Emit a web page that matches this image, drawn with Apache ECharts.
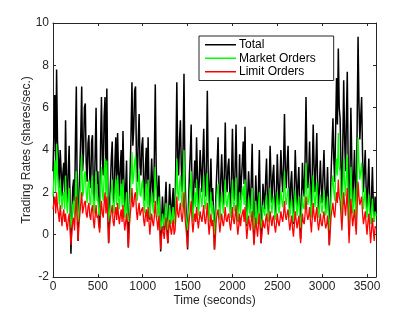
<!DOCTYPE html>
<html>
<head>
<meta charset="utf-8">
<script src="https://cdn.jsdelivr.net/npm/echarts@6/dist/echarts.min.js"></script>
<style>html,body{margin:0;padding:0;background:#fff}#c{width:415px;height:311px}</style>
</head>
<body>
<div id="c"></div>
<script>
// sample spacing: one value every 10 seconds, 0..3600
var STEP_SECONDS = 10;
var xTickValues = [0, 500, 1000, 1500, 2000, 2500, 3000, 3500];
var yTickValues = [-2, 0, 2, 4, 6, 8, 10];
var xTitle = 'Time (seconds)';
var yTitle = 'Trading Rates (shares/sec.)';

var totalRates = [
 3.0, 4.8, 6.6, 3.2, 7.8, 4.4, 3.6, 2.2, 4.0, 3.1, 1.8, 2.9, 3.4, 1.9, 5.4, 2.6, 1.5, 3.0, 4.2, 1.6,
 -0.9, 0.8, 2.2, 2.6, 1.0, 4.4, 7.0, 1.8, -0.3, 2.0, 3.2, 4.8, 7.0, 3.0, 3.8, 6.0, 6.2, 3.4, 2.5, 4.3,
 4.7, 2.6, 2.2, 4.4, 4.7, 2.0, 1.6, 3.8, 6.0, 2.4, 3.0, 1.2, 0.3, 4.2, 6.5, 3.6, 2.8, 5.6, 6.5, 3.0,
 6.9, 2.5, -0.4, 1.2, 2.4, 3.6, 4.4, 1.9, 1.5, 3.4, 4.6, 2.2, 4.8, 3.0, 1.8, 3.2, 4.0, 2.0, 4.9, 2.6,
 1.2, 2.2, 3.5, 0.8, -0.6, 1.4, 3.0, 4.8, 7.2, 4.2, 5.0, 6.8, 7.0, 3.6, 2.5, 4.5, 5.7, 3.2, 2.8, 4.2,
 4.6, 2.4, 1.6, 3.2, 4.1, 2.0, 4.6, 2.2, 0.7, 2.4, 3.6, 2.2, 1.5, 3.8, 7.1, 3.2, 2.2, 1.0, 2.8, 1.4,
 -0.8, 0.6, 1.8, 1.0, 0.2, 1.6, 2.5, 0.8, -0.4, 1.2, 2.4, 1.4, 0.5, 1.6, 2.2, 0.6, 1.0, 3.8, 7.2, 3.6,
 2.8, 4.5, 5.4, 3.2, 2.0, 4.2, 7.6, 3.0, 1.5, 0.6, -0.7, 1.4, 2.8, 3.8, 5.2, 2.0, 0.8, 2.4, 3.5, 2.2,
 4.6, 2.8, 1.2, 2.6, 4.0, 3.0, 2.0, 3.6, 5.0, 2.6, 1.8, 3.4, 6.8, 2.8, 1.0, 2.4, 3.6, 1.6, 2.2, 1.0,
 -0.7, 1.0, 2.4, 3.4, 4.6, 2.2, 0.8, 2.6, 3.8, 2.4, 1.4, 3.0, 5.3, 2.6, 2.0, 3.2, 3.6, 2.0, 1.0, 2.8,
 5.0, 2.6, 1.6, 3.2, 5.2, 2.4, 0.6, 2.0, 3.8, 1.6, 2.6, 3.4, 4.4, 2.4, 5.1, 2.2, 0.4, 1.8, 3.0, 2.0,
 1.0, 2.6, 4.3, 1.4, -0.4, 1.2, 2.8, 1.6, 0.5, 2.2, 4.0, 1.4, -0.4, 1.0, 2.4, 1.8, 1.2, 2.6, 3.6, 1.6,
 0.6, 2.4, 4.2, 2.6, 1.5, 2.8, 3.3, 1.8, 0.8, 2.0, 3.8, 2.4, 1.4, 2.6, 4.0, 2.8, 2.0, 3.4, 5.7, 3.0,
 2.2, 3.4, 4.2, 2.2, 1.0, 2.4, 3.0, 1.6, 0.5, 2.2, 4.0, 2.6, 1.2, 2.4, 3.2, 1.4, -0.2, 1.6, 3.4, 2.2,
 1.8, 3.6, 6.5, 3.4, 2.2, 3.0, 4.4, 2.4, 1.0, 3.0, 5.2, 3.2, 2.0, 3.4, 4.8, 2.2, 1.0, 2.4, 3.5, 2.2,
 1.5, 2.8, 4.0, 2.4, 1.2, 2.0, 3.2, 1.4, -0.5, 1.2, 3.0, 4.2, 5.5, 3.6, 2.5, 5.0, 7.4, 5.2, 8.8, 6.0,
 5.5, 3.2, 1.0, 4.2, 7.3, 4.6, 3.0, 5.4, 7.7, 3.2, 0.0, 2.8, 6.0, 3.6, 1.5, 2.6, 4.0, 2.2, 0.6, 5.2,
 9.35, 6.2, 4.5, 5.6, 6.5, 3.8, 2.0, 3.0, 4.0, 2.2, 1.0, 2.4, 3.6, 1.6, 0.5, 1.8, 3.2, 1.4, 0.6, 1.8,
 1.0
];

var marketRates = [
 1.8, 2.6, 3.5, 2.0, 4.3, 2.8, 2.2, 1.4, 2.6, 1.9, 1.2, 1.8, 2.0, 1.2, 2.8, 1.6, 1.0, 1.8, 2.2, 1.0,
 0.3, 0.8, 1.4, 1.6, 0.8, 2.2, 3.0, 1.2, 0.6, 1.3, 1.8, 2.6, 3.8, 1.8, 2.0, 2.9, 3.0, 2.0, 1.5, 2.4,
 2.6, 1.6, 1.4, 2.4, 2.8, 1.4, 1.0, 2.0, 3.0, 1.6, 1.8, 1.0, 0.9, 2.2, 3.2, 2.0, 1.6, 2.8, 3.6, 1.8,
 3.5, 1.6, 0.6, 1.0, 1.6, 2.1, 2.6, 1.3, 1.0, 2.0, 2.6, 1.4, 2.8, 1.8, 1.2, 1.9, 2.4, 1.3, 2.6, 1.5,
 0.8, 1.4, 2.0, 0.8, 0.6, 1.0, 1.8, 2.6, 3.9, 2.4, 2.8, 3.5, 3.7, 2.2, 1.6, 2.5, 3.0, 1.9, 1.8, 2.4,
 2.6, 1.5, 1.0, 1.9, 2.4, 1.3, 2.6, 1.4, 0.8, 1.5, 2.0, 1.4, 1.0, 2.0, 3.2, 1.8, 1.4, 0.8, 1.8, 1.0,
 0.2, 0.5, 1.0, 0.7, 0.4, 1.0, 1.5, 0.6, 0.2, 0.8, 1.4, 0.9, 0.5, 1.0, 1.3, 0.5, 0.8, 2.0, 3.6, 2.0,
 1.6, 2.4, 2.8, 1.8, 1.3, 2.4, 4.0, 1.8, 1.0, 0.5, 0.2, 0.9, 1.6, 2.2, 3.0, 1.3, 0.6, 1.4, 2.0, 1.3,
 2.6, 1.6, 0.9, 1.6, 2.2, 1.7, 1.3, 2.0, 2.8, 1.5, 1.2, 1.9, 2.9, 1.6, 0.6, 1.4, 2.0, 1.0, 1.4, 0.7,
 0.0, 0.7, 1.5, 2.0, 2.4, 1.4, 0.7, 1.5, 2.0, 1.4, 1.0, 1.7, 2.6, 1.5, 1.3, 1.8, 2.0, 1.2, 0.8, 1.6,
 2.6, 1.5, 1.1, 1.8, 2.7, 1.4, 0.6, 1.2, 2.0, 1.0, 1.6, 1.9, 2.3, 1.4, 2.6, 1.3, 0.5, 1.1, 1.8, 1.2,
 0.8, 1.5, 2.2, 0.9, 0.2, 0.8, 1.6, 1.0, 0.5, 1.3, 2.0, 0.8, 0.3, 0.7, 1.4, 1.1, 0.9, 1.5, 1.9, 1.0,
 0.6, 1.4, 2.2, 1.5, 1.0, 1.6, 1.8, 1.1, 0.7, 1.2, 2.0, 1.4, 1.0, 1.5, 2.1, 1.6, 1.3, 1.9, 3.0, 1.7,
 1.4, 1.9, 2.2, 1.3, 0.8, 1.4, 1.7, 1.0, 0.6, 1.3, 2.1, 1.5, 0.9, 1.4, 1.8, 0.9, 0.3, 1.0, 1.9, 1.3,
 1.2, 2.0, 3.4, 1.9, 1.4, 1.7, 2.4, 1.4, 0.8, 1.7, 2.8, 1.8, 1.3, 1.9, 2.5, 1.3, 0.8, 1.4, 1.9, 1.3,
 1.0, 1.6, 2.1, 1.4, 0.9, 1.2, 1.8, 0.9, 0.2, 0.8, 1.8, 2.3, 2.8, 2.0, 1.6, 2.7, 3.6, 2.8, 4.8, 3.2,
 3.0, 1.8, 0.8, 2.2, 3.6, 2.5, 1.8, 2.8, 3.8, 1.8, 0.3, 1.5, 3.2, 2.0, 1.0, 1.5, 2.2, 1.3, 0.6, 2.6,
 4.6, 3.3, 2.6, 3.0, 3.4, 2.1, 1.2, 1.7, 2.2, 1.3, 0.8, 1.4, 1.9, 1.0, 0.5, 1.1, 1.7, 0.9, 0.6, 1.1,
 0.9
];

var limitRates = [
 1.2, 1.5, 1.8, 1.0, 2.0, 1.3, 1.0, 0.6, 1.4, 0.9, 0.4, 0.9, 1.2, 0.6, 1.0, 0.5, 0.2, 0.7, 1.0, 0.3,
 -0.5, 0.1, 0.6, 0.8, 0.2, 1.2, 1.8, 0.5, -0.3, 0.5, 1.0, 1.5, 2.0, 1.0, 1.0, 1.5, 1.6, 1.0, 0.8, 1.3,
 1.5, 0.9, 0.7, 1.2, 1.4, 0.7, 0.3, 0.9, 1.4, 0.8, 0.9, 0.4, 0.1, 1.0, 1.6, 1.0, 0.8, 1.5, 2.0, 1.0,
 1.8, 0.8, -0.4, 0.3, 0.8, 1.1, 1.4, 0.6, 0.4, 1.0, 1.3, 0.7, 1.5, 0.9, 0.5, 0.9, 1.2, 0.6, 1.4, 0.7,
 0.2, 0.6, 1.0, 0.2, -0.6, 0.3, 0.9, 1.4, 2.2, 1.3, 1.4, 1.9, 2.0, 1.1, 0.7, 1.2, 1.5, 0.9, 0.9, 1.2,
 1.3, 0.7, 0.4, 0.9, 1.2, 0.6, 1.3, 0.6, 0.0, 0.6, 1.0, 0.6, 0.4, 0.9, 1.6, 0.9, 0.6, 0.2, 0.9, 0.3,
 -0.7, -0.1, 0.4, 0.1, -0.2, 0.4, 0.8, 0.0, -0.4, 0.2, 0.7, 0.3, 0.0, 0.4, 0.7, 0.0, 0.2, 0.9, 1.8, 1.0,
 0.8, 1.2, 1.5, 0.9, 0.6, 1.1, 2.0, 0.9, 0.4, -0.1, -0.6, 0.2, 0.8, 1.1, 1.6, 0.6, 0.1, 0.6, 1.0, 0.6,
 1.3, 0.7, 0.3, 0.7, 1.1, 0.8, 0.6, 1.0, 1.4, 0.7, 0.5, 0.9, 1.5, 0.6, 0.0, 0.5, 1.0, 0.4, 0.7, 0.1,
 -0.7, -0.1, 0.7, 1.0, 1.2, 0.6, 0.1, 0.6, 1.0, 0.6, 0.4, 0.8, 1.3, 0.7, 0.6, 0.9, 1.0, 0.5, 0.2, 0.7,
 1.3, 0.7, 0.5, 0.9, 1.4, 0.5, 0.0, 0.4, 1.0, 0.4, 0.8, 1.0, 1.2, 0.6, 1.3, 0.5, -0.2, 0.3, 0.9, 0.5,
 0.2, 0.7, 1.1, 0.2, -0.5, 0.1, 0.8, 0.3, -0.1, 0.5, 1.0, 0.2, -0.4, 0.1, 0.7, 0.4, 0.3, 0.7, 1.0, 0.4,
 0.0, 0.6, 1.1, 0.7, 0.4, 0.8, 0.9, 0.4, 0.1, 0.5, 1.0, 0.6, 0.4, 0.7, 1.1, 0.8, 0.6, 1.0, 1.6, 0.9,
 0.7, 1.0, 1.2, 0.6, 0.2, 0.6, 0.9, 0.3, -0.1, 0.5, 1.1, 0.7, 0.3, 0.6, 0.9, 0.2, -0.4, 0.3, 1.0, 0.6,
 0.5, 1.0, 1.8, 1.0, 0.7, 0.9, 1.3, 0.6, 0.1, 0.8, 1.5, 0.9, 0.6, 1.0, 1.3, 0.6, 0.2, 0.6, 1.0, 0.5,
 0.4, 0.8, 1.1, 0.6, 0.3, 0.5, 0.9, 0.2, -0.5, 0.2, 0.9, 1.2, 1.5, 1.0, 0.8, 1.4, 2.0, 1.5, 2.6, 1.8,
 1.6, 0.9, 0.2, 1.1, 2.0, 1.4, 0.9, 1.5, 2.2, 0.8, -0.4, 0.6, 1.7, 1.0, 0.4, 0.8, 1.2, 0.5, 0.0, 1.3,
 2.5, 1.8, 1.4, 1.6, 1.8, 1.0, 0.5, 0.8, 1.1, 0.5, 0.0, 0.6, 1.0, 0.3, -0.4, 0.2, 0.8, 0.2, -0.3, 0.4,
 0.3
];

var seriesNames = ['Total', 'Market Orders', 'Limit Orders'];
var seriesColors = ['#000000', '#00ff00', '#ff0000'];

function pairs(arr) {
  return arr.map(function (v, i) { return [i * STEP_SECONDS, v]; });
}

var FONT = 'Liberation Sans, Arial, Helvetica, sans-serif';
var AX = '#262626';

var chart = echarts.init(document.getElementById('c'), null, {renderer: 'canvas'});
var xBase = {
  type: 'value', min: 0, max: 3600, interval: 500,
  axisLine: {show: true, onZero: false, lineStyle: {color: AX, width: 1}},
  axisTick: {show: true, inside: true, length: 3, lineStyle: {color: AX}},
  splitLine: {show: false}
};
var yBase = {
  type: 'value', min: -2, max: 10, interval: 2,
  axisLine: {show: true, onZero: false, lineStyle: {color: AX, width: 1}},
  axisTick: {show: true, inside: true, length: 3, lineStyle: {color: AX}},
  splitLine: {show: false}
};

chart.setOption({
  animation: false,
  backgroundColor: '#fff',
  textStyle: {fontFamily: FONT},
  grid: {left: 53, right: 39, top: 23, bottom: 34, containLabel: false},
  graphic: [
    {type: 'text', x: 27, y: 150, rotation: Math.PI / 2, silent: true,
     style: {text: yTitle, font: '12px ' + FONT, fill: AX, align: 'center', verticalAlign: 'middle'}},
    {type: 'text', x: 214.5, y: 301, silent: true,
     style: {text: xTitle, font: '12px ' + FONT, fill: AX, align: 'center', verticalAlign: 'middle'}}
  ],
  legend: {
    data: seriesNames,
    orient: 'vertical',
    left: 199, top: 36,
    width: 122,
    backgroundColor: '#fff',
    borderColor: AX, borderWidth: 1,
    padding: [2, 18, 2, 6],
    itemGap: 0,
    itemWidth: 31, itemHeight: 1.5,
    icon: 'rect',
    textStyle: {fontFamily: FONT, fontSize: 12, color: '#000', lineHeight: 13.5, padding: [0, 0, 0, -2]}
  },
  xAxis: [
    Object.assign({}, xBase, {
      position: 'bottom',
      axisLabel: {
        color: AX, fontSize: 12, fontFamily: FONT, margin: 4,
        formatter: function (v) { return xTickValues.indexOf(v) >= 0 ? String(v) : ''; }
      }
    }),
    Object.assign({}, xBase, {position: 'top', axisLabel: {show: false}})
  ],
  yAxis: [
    Object.assign({}, yBase, {
      position: 'left',
      axisLabel: {
        color: AX, fontSize: 12, fontFamily: FONT, margin: 4,
        formatter: function (v) { return yTickValues.indexOf(v) >= 0 ? String(v) : ''; }
      }
    }),
    Object.assign({}, yBase, {position: 'right', axisLabel: {show: false}})
  ],
  series: [
    {name: seriesNames[0], type: 'line', data: pairs(totalRates), showSymbol: false, symbol: 'none', sampling: null,
     lineStyle: {color: seriesColors[0], width: 1.5}, itemStyle: {color: seriesColors[0]}},
    {name: seriesNames[1], type: 'line', data: pairs(marketRates), showSymbol: false, symbol: 'none', sampling: null,
     lineStyle: {color: seriesColors[1], width: 1.3}, itemStyle: {color: seriesColors[1]}},
    {name: seriesNames[2], type: 'line', data: pairs(limitRates), showSymbol: false, symbol: 'none', sampling: null,
     lineStyle: {color: seriesColors[2], width: 1.3}, itemStyle: {color: seriesColors[2]}}
  ]
});
</script>
</body>
</html>
